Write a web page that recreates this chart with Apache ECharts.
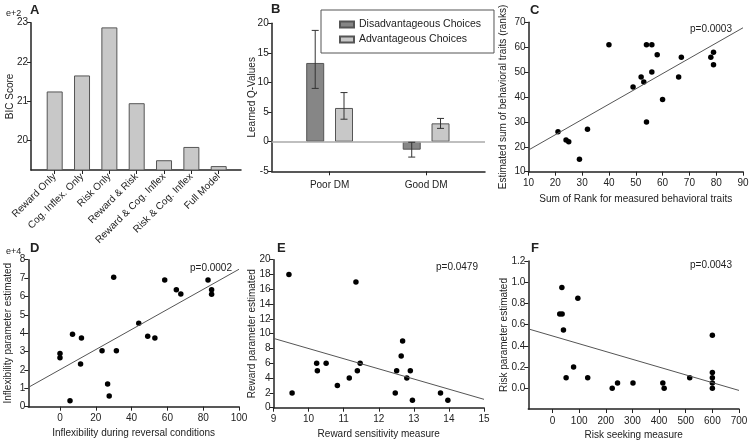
<!DOCTYPE html>
<html lang="en">
<head>
<meta charset="UTF-8">
<title>Model comparison and parameter estimates</title>
<script src="https://cdn.jsdelivr.net/npm/echarts@6/dist/echarts.min.js"></script>
<style>
    html, body { margin: 0; padding: 0; background: #fff; }
    #chart { width: 751px; height: 442px; }
</style>
</head>
<body>
<div id="chart"></div>
<script>
    // A - BIC per model
    var bicModels = ['Reward Only', 'Cog. Inflex. Only', 'Risk Only', 'Reward & Risk',
        'Reward & Cog. Inflex', 'Risk & Cog. Inflex', 'Full Model'];
    var bicScores = [21.24, 21.65, 22.88, 20.94, 19.48, 19.82, 19.33];

    // B - learned Q values
    var dmGroups = ['Poor DM', 'Good DM'];
    var qDisadv = [13.3, -1.35];
    var qDisadvLow = [9.0, -2.6];
    var qDisadvHigh = [18.8, -0.1];
    var qAdv = [5.7, 3.1];
    var qAdvLow = [3.8, 2.25];
    var qAdvHigh = [8.3, 3.93];

    // C - rank sums
    var rankMeasured = [21, 24, 25, 29, 32, 40, 49, 52, 53, 54, 54, 56, 56, 58, 60, 66, 67, 78, 79, 79];
    var rankEstimated = [26, 22.7, 22, 15, 27, 61, 44, 48, 46, 61, 30, 61, 50, 57, 39, 48, 56, 56, 58, 53];
    var fitC = [[10, 18.7], [90, 67.8]];

    // D - inflexibility
    var inflexMeasured = [0, 0, 5.6, 7, 11.5, 12, 23.5, 26.6, 27.5, 30, 31.5, 44, 49, 53, 58.5, 65, 67.5, 82.7, 84.7, 84.7];
    var inflexParam = [2.9, 2.67, 0.33, 3.94, 2.32, 3.74, 3.05, 1.23, 0.58, 7.04, 3.05, 4.54, 3.83, 3.74, 6.9, 6.37, 6.13, 6.9, 6.37, 6.12];
    var fitD = [[-17.7, 1.05], [100, 7.48]];

    // E - reward sensitivity
    var rewardMeasured = [9.44, 9.53, 10.23, 10.25, 10.5, 10.82, 11.16, 11.35, 11.39, 11.47, 12.47, 12.51, 12.64, 12.68, 12.8, 12.9, 12.96, 13.76, 13.97];
    var rewardParam = [18, 2, 6, 5, 6, 3, 4, 17, 5, 6, 2, 5, 7, 9, 4, 5, 1, 2, 1];
    var fitE = [[9, 9.37], [15, 1.13]];

    // F - risk seeking
    var riskMeasured = [27, 36, 35, 95, 41, 79, 51, 132, 224, 244, 302, 414, 419, 515, 600, 600, 600, 600, 600];
    var riskParam = [0.7, 0.7, 0.95, 0.85, 0.55, 0.2, 0.1, 0.1, 0, 0.05, 0.05, 0.05, 0, 0.1, 0.5, 0.15, 0.1, 0.05, 0];
    var fitF = [[-91, 0.56], [700, -0.02]];

    var pValues = ['p=0.0003', 'p=0.0002', 'p=0.0479', 'p=0.0043'];

    var ink = '#222';
    var font = "'Liberation Sans', Arial, sans-serif";

    function pairs(xs, ys) {
        return xs.map(function (x, i) { return [x, ys[i]]; });
    }

    function axis(gi, o) {
        var a = {
            type: 'value',
            gridIndex: gi,
            axisLine: { show: true, onZero: false, lineStyle: { color: ink, width: 1.5 } },
            axisTick: { show: true, length: 4, lineStyle: { color: ink, width: 1 } },
            axisLabel: { color: ink, fontSize: 10, margin: 3, fontFamily: font },
            splitLine: { show: false },
            nameLocation: 'middle',
            nameMoveOverlap: false,
            nameTextStyle: { color: ink, fontSize: 10, fontFamily: font }
        };
        for (var k in o) {
            if (k === 'axisLabel' || k === 'axisTick') {
                for (var j in o[k]) a[k][j] = o[k][j];
            } else {
                a[k] = o[k];
            }
        }
        return a;
    }

    function scatter(gi, xs, ys) {
        return {
            type: 'scatter', xAxisIndex: gi, yAxisIndex: gi,
            data: pairs(xs, ys), symbolSize: 5.5,
            itemStyle: { color: '#000', opacity: 1 }, silent: true
        };
    }

    function fitLine(gi, pts) {
        return {
            type: 'line', xAxisIndex: gi, yAxisIndex: gi, data: pts,
            symbol: 'none', silent: true,
            lineStyle: { color: '#555', width: 1 }
        };
    }

    var barShift = 14.4;   // half distance between the two bars of a group

    function errorBars(name, low, high, shift) {
        return {
            type: 'custom', name: name, xAxisIndex: 1, yAxisIndex: 1, z: 5, silent: true,
            data: dmGroups.map(function (g, i) { return [i + 1, low[i], high[i]]; }),
            encode: { x: 0, y: [1, 2] },
            renderItem: function (params, api) {
                var top = api.coord([api.value(0), api.value(2)]);
                var bot = api.coord([api.value(0), api.value(1)]);
                var x = top[0] + shift;
                var st = { stroke: '#333', lineWidth: 1 };
                return {
                    type: 'group',
                    children: [
                        { type: 'line', shape: { x1: x, y1: top[1], x2: x, y2: bot[1] }, style: st },
                        { type: 'line', shape: { x1: x - 3.5, y1: top[1], x2: x + 3.5, y2: top[1] }, style: st },
                        { type: 'line', shape: { x1: x - 3.5, y1: bot[1], x2: x + 3.5, y2: bot[1] }, style: st }
                    ]
                };
            }
        };
    }

    function label(text, left, top, size, bold) {
        return {
            text: text, left: left, top: top, padding: 0,
            textStyle: { fontSize: size, fontWeight: bold ? 'bold' : 'normal', color: ink, fontFamily: font }
        };
    }

    var chart = echarts.init(document.getElementById('chart'));
    chart.setOption({
        animation: false,
        backgroundColor: '#fff',
        textStyle: { fontFamily: font },
        title: [
            label('A', 30, 4, 13, true),
            label('e+2', 6, 9, 9, false),
            label('B', 271, 3, 13, true),
            label('C', 530, 4, 13, true),
            label('D', 30, 242, 13, true),
            label('e+4', 6, 247, 9, false),
            label('E', 277, 242, 13, true),
            label('F', 531, 242, 13, true),
            label(pValues[0], 690, 24, 10, false),
            label(pValues[1], 190, 263, 10, false),
            label(pValues[2], 436, 262, 10, false),
            label(pValues[3], 690, 260, 10, false)
        ],
        legend: {
            data: ['Disadvantageous Choices', 'Advantageous Choices'],
            orient: 'vertical', left: 321, top: 10,
            icon: 'rect', itemWidth: 14, itemHeight: 6, itemGap: 2,
            padding: [8, 13, 7, 18],
            backgroundColor: '#fff', borderColor: '#555', borderWidth: 1,
            textStyle: { color: ink, fontSize: 10.5, lineHeight: 13, fontFamily: font },
            selectedMode: false
        },
        grid: [
            { left: 31, top: 22.7, width: 210, height: 147.3, outerBoundsMode: 'none' },
            { left: 271.7, top: 23.3, width: 213.3, height: 148, outerBoundsMode: 'none' },
            { left: 528.5, top: 22.3, width: 214.5, height: 149.4, outerBoundsMode: 'none' },
            { left: 28.3, top: 259.7, width: 210.7, height: 147, outerBoundsMode: 'none' },
            { left: 273.5, top: 259.7, width: 210.5, height: 148, outerBoundsMode: 'none' },
            { left: 528.3, top: 261, width: 210.7, height: 148, outerBoundsMode: 'none' }
        ],
        xAxis: [
            axis(0, {
                min: 0.133, max: 7.816,
                axisTick: { customValues: [1, 2, 3, 4, 5, 6, 7] },
                axisLabel: {
                    customValues: [1, 2, 3, 4, 5, 6, 7], rotate: 45, margin: 5,
                    formatter: function (v) { return bicModels[Math.round(v) - 1]; }
                }
            }),
            axis(1, {
                min: 0.4, max: 2.61,
                axisTick: { customValues: [1, 2] },
                axisLabel: {
                    customValues: [1, 2], margin: 9,
                    formatter: function (v) { return dmGroups[Math.round(v) - 1]; }
                }
            }),
            axis(2, { min: 10, max: 90, interval: 10, axisLabel: { margin: 7 },
                name: 'Sum of Rank for measured behavioral traits', nameGap: 23 }),
            axis(3, {
                min: -17.7, max: 100,
                axisTick: { customValues: [0, 20, 40, 60, 80, 100] },
                axisLabel: { customValues: [0, 20, 40, 60, 80, 100], margin: 7 },
                name: 'Inflexibility during reversal conditions', nameGap: 22
            }),
            axis(4, { min: 9, max: 15, interval: 1, axisLabel: { margin: 7 },
                name: 'Reward sensitivity measure', nameGap: 22 }),
            axis(5, {
                min: -91, max: 700,
                axisTick: { customValues: [0, 100, 200, 300, 400, 500, 600, 700] },
                axisLabel: { customValues: [0, 100, 200, 300, 400, 500, 600, 700], margin: 7 },
                name: 'Risk seeking measure', nameGap: 21
            })
        ],
        yAxis: [
            axis(0, {
                min: 19.23, max: 23,
                axisTick: { customValues: [20, 21, 22, 23] },
                axisLabel: { customValues: [20, 21, 22, 23] },
                name: 'BIC Score', nameGap: 15.5
            }),
            axis(1, { min: -5, max: 20, interval: 5, name: 'Learned Q-Values', nameGap: 14 }),
            axis(2, { min: 10, max: 70, interval: 10,
                name: 'Estimated sum of behavioral traits (ranks)', nameGap: 20 }),
            axis(3, { min: 0, max: 8, interval: 1, name: 'Inflexibility parameter estimated', nameGap: 15 }),
            axis(4, { min: 0, max: 20, interval: 2, name: 'Reward parameter estimated', nameGap: 16 }),
            axis(5, {
                min: -0.195, max: 1.2,
                axisTick: { customValues: [0, 0.2, 0.4, 0.6, 0.8, 1.0, 1.2] },
                axisLabel: {
                    customValues: [0, 0.2, 0.4, 0.6, 0.8, 1.0, 1.2],
                    formatter: function (v) { return v.toFixed(1); }
                },
                name: 'Risk parameter estimated', nameGap: 19
            })
        ],
        series: [
            {
                type: 'bar', xAxisIndex: 0, yAxisIndex: 0, barWidth: 16, silent: true,
                data: bicScores.map(function (v, i) { return [i + 1, v]; }),
                itemStyle: { color: '#c8c8c8', borderColor: '#555', borderWidth: 1 }
            },
            {
                type: 'bar', name: 'Disadvantageous Choices', xAxisIndex: 1, yAxisIndex: 1,
                barWidth: 18, barGap: '60%', silent: true,
                data: qDisadv.map(function (v, i) { return [i + 1, v]; }),
                itemStyle: { color: '#868686', borderColor: '#555', borderWidth: 1 },
                markLine: {
                    silent: true, symbol: 'none', label: { show: false },
                    lineStyle: { color: '#aaa', width: 1.5, type: 'solid' },
                    data: [{ yAxis: 0 }]
                }
            },
            {
                type: 'bar', name: 'Advantageous Choices', xAxisIndex: 1, yAxisIndex: 1,
                barWidth: 18, barGap: '60%', silent: true,
                data: qAdv.map(function (v, i) { return [i + 1, v]; }),
                itemStyle: { color: '#c8c8c8', borderColor: '#555', borderWidth: 1 }
            },
            errorBars('errDisadv', qDisadvLow, qDisadvHigh, -barShift),
            errorBars('errAdv', qAdvLow, qAdvHigh, barShift),
            scatter(2, rankMeasured, rankEstimated),
            fitLine(2, fitC),
            scatter(3, inflexMeasured, inflexParam),
            fitLine(3, fitD),
            scatter(4, rewardMeasured, rewardParam),
            fitLine(4, fitE),
            scatter(5, riskMeasured, riskParam),
            fitLine(5, fitF)
        ]
    });
</script>
</body>
</html>
